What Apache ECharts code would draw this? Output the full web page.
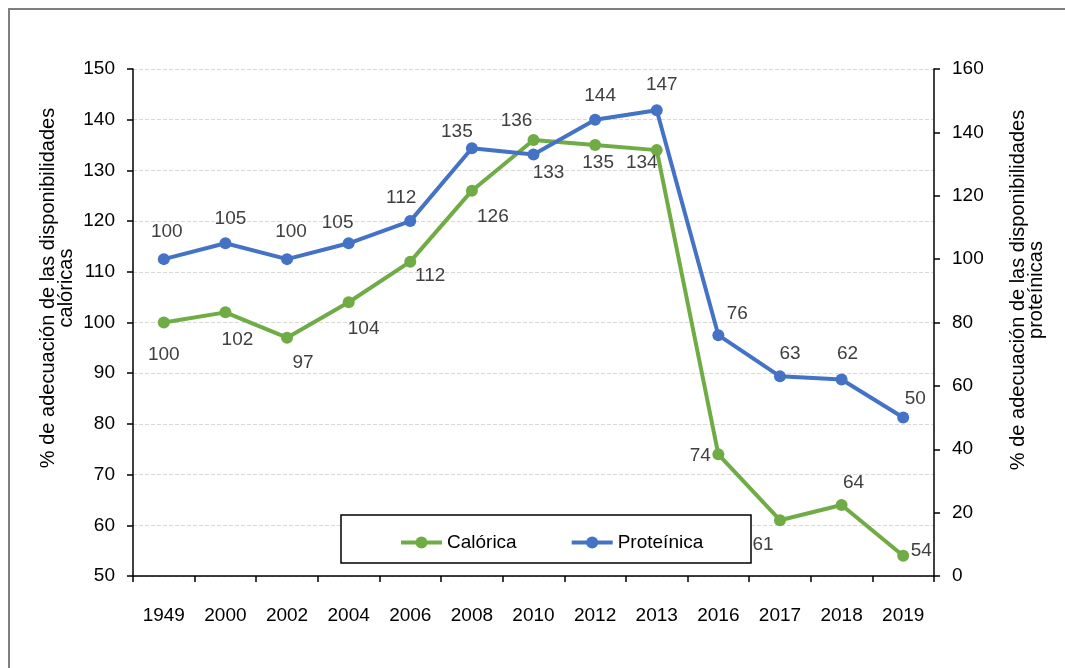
<!DOCTYPE html>
<html>
<head>
<meta charset="utf-8">
<script src="https://cdn.jsdelivr.net/npm/echarts@6/dist/echarts.min.js"></script>
<style>
  html, body { margin: 0; padding: 0; background: #fff; }
  #main { width: 1065px; height: 668px; }
</style>
</head>
<body>
<div id="main"></div>
<script>
// datos del grafico
var years = ['1949', '2000', '2002', '2004', '2006', '2008', '2010', '2012', '2013', '2016', '2017', '2018', '2019'];
var calorica = [100, 102, 97, 104, 112, 126, 136, 135, 134, 74, 61, 64, 54];
var proteinica = [100, 105, 100, 105, 112, 135, 133, 144, 147, 76, 63, 62, 50];

// desplazamiento de las etiquetas (px) respecto al punto
var offCal = [[0, 32], [12, 27], [16, 25], [15, 27], [20, 14], [21, 26], [-17, -19], [3, 18], [-15, 13], [-18, 1], [-17, 25], [12, -22], [18, -5]];
var offPro = [[3, -27], [5, -25], [4, -27], [-11, -21], [-9, -23], [-15, -16], [15, 18], [5, -24], [5, -25], [19, -21], [10, -23], [6, -26], [12, -19]];

function withLabels(values, offs) {
  return values.map(function (v, i) {
    return { value: v, label: { offset: offs[i] } };
  });
}

var chart = echarts.init(document.getElementById('main'));
var font = 'Liberation Sans, Arial, sans-serif';

var option = {
  backgroundColor: '#fff',
  animation: false,
  textStyle: { fontFamily: font },
  grid: { left: 133, right: 131, top: 69, bottom: 92 },
  graphic: [
    {
      type: 'rect',
      shape: { x: 9, y: 9, width: 1100, height: 700 },
      style: { fill: 'none', stroke: '#7f7f7f', lineWidth: 2 }
    },
    {
      type: 'rect',
      shape: { x: 341, y: 515, width: 410, height: 48 },
      style: { fill: '#fff', stroke: '#000', lineWidth: 1.5 },
      z: 50
    },
    {
      type: 'text',
      x: 57, y: 288,
      rotation: Math.PI / 2,
      style: {
        text: '% de adecuación de las disponibilidades\ncalóricas',
        font: '20px ' + font,
        fill: '#000',
        align: 'center',
        verticalAlign: 'middle',
        lineHeight: 18
      }
    },
    {
      type: 'text',
      x: 1027, y: 290,
      rotation: Math.PI / 2,
      style: {
        text: '% de adecuación de las disponibilidades\nproteínicas',
        font: '20px ' + font,
        fill: '#000',
        align: 'center',
        verticalAlign: 'middle',
        lineHeight: 18
      }
    }
  ],
  legend: {
    left: 394,
    top: 528,
    z: 60,
    itemWidth: 41,
    itemHeight: 15,
    itemGap: 53,
    lineStyle: { width: 4 },
    textStyle: { fontSize: 19, color: '#000', fontFamily: font },
    data: ['Calórica', 'Proteínica']
  },
  xAxis: {
    type: 'category',
    data: years,
    boundaryGap: true,
    axisLine: { lineStyle: { color: '#000', width: 1.5 } },
    axisTick: { show: true, length: 6, lineStyle: { color: '#000', width: 1.5 } },
    axisLabel: { color: '#000', fontSize: 19, margin: 30, fontFamily: font }
  },
  yAxis: [
    {
      type: 'value',
      min: 50, max: 150, interval: 10,
      axisLine: { show: true, lineStyle: { color: '#000', width: 1.5 } },
      axisTick: { show: true, length: 6, lineStyle: { color: '#000', width: 1.5 } },
      axisLabel: { color: '#000', fontSize: 19, margin: 18, fontFamily: font },
      splitLine: { lineStyle: { color: '#d9d9d9', type: 'dashed', width: 1 } }
    },
    {
      type: 'value',
      min: 0, max: 160, interval: 20,
      position: 'right',
      axisLine: { show: true, lineStyle: { color: '#000', width: 1.5 } },
      axisTick: { show: true, length: 6, lineStyle: { color: '#000', width: 1.5 } },
      axisLabel: { color: '#000', fontSize: 19, margin: 18, fontFamily: font },
      splitLine: { show: false }
    }
  ],
  series: [
    {
      name: 'Calórica',
      type: 'line',
      yAxisIndex: 0,
      data: withLabels(calorica, offCal),
      color: '#6fac46',
      symbol: 'circle',
      symbolSize: 12,
      lineStyle: { width: 4 },
      label: {
        show: true, position: 'inside',
        color: '#404040', fontSize: 19, fontFamily: font
      },
      z: 3
    },
    {
      name: 'Proteínica',
      type: 'line',
      yAxisIndex: 1,
      data: withLabels(proteinica, offPro),
      color: '#4472c4',
      symbol: 'circle',
      symbolSize: 12,
      lineStyle: { width: 4 },
      label: {
        show: true, position: 'inside',
        color: '#404040', fontSize: 19, fontFamily: font
      },
      z: 4
    }
  ]
};

chart.setOption(option);
</script>
</body>
</html>
